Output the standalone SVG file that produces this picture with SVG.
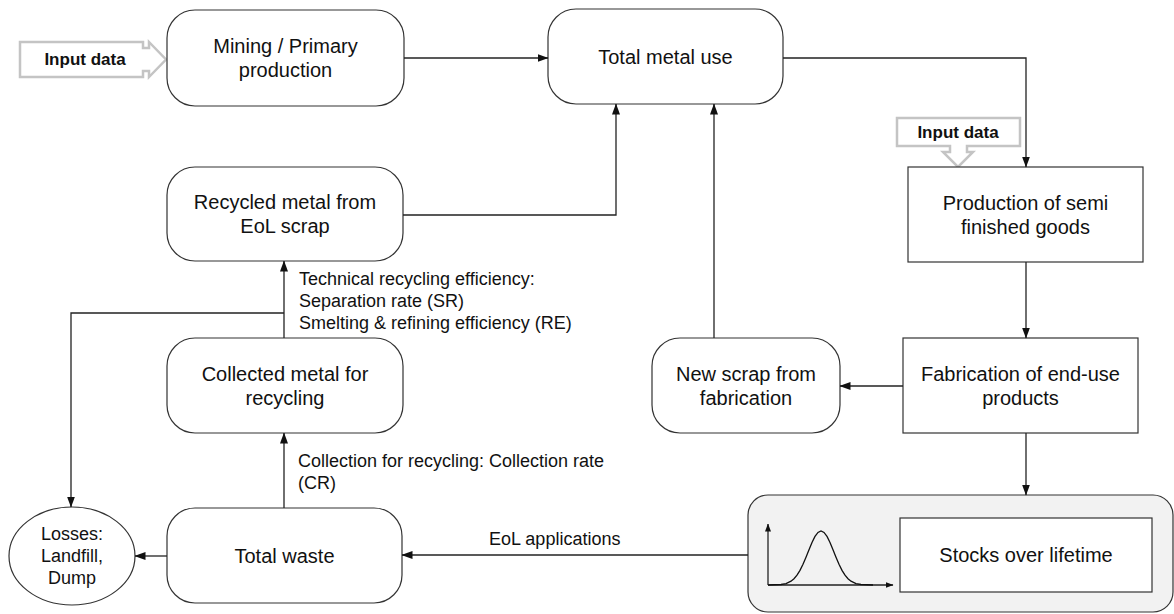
<svg xmlns="http://www.w3.org/2000/svg" width="1174" height="614" viewBox="0 0 1174 614">
  <style>
    .node { fill: #ffffff; stroke: #333333; stroke-width: 1.2; }
    .t { font-family: "Liberation Sans", Arial, sans-serif; font-size: 20px; fill: #111111; text-anchor: middle; }
    .lbl { font-family: "Liberation Sans", Arial, sans-serif; font-size: 18px; fill: #111111; }
    .small { font-family: "Liberation Sans", Arial, sans-serif; font-size: 18px; fill: #111111; text-anchor: middle; }
    .inp { fill: #ffffff; stroke: #c4c4c4; stroke-width: 2.5; stroke-linejoin: miter; }
    .inpt { font-family: "Liberation Sans", Arial, sans-serif; font-size: 17px; font-weight: bold; fill: #111111; text-anchor: middle; }
    .conn { fill: none; stroke: #222222; stroke-width: 1.3; }
  </style>
  <defs>
    <marker id="arrow" markerUnits="userSpaceOnUse" markerWidth="11" markerHeight="8" refX="10.5" refY="4" orient="auto">
      <path d="M0,0 L11,4 L0,8 Z" fill="#111111"/>
    </marker>
    <marker id="axis" markerUnits="userSpaceOnUse" markerWidth="8" markerHeight="6" refX="7.5" refY="3" orient="auto">
      <path d="M0,0 L8,3 L0,6 Z" fill="#111111"/>
    </marker>
  </defs>

  <!-- input data callouts -->
  <g id="input-left">
    <path class="inp" d="M20,42 H143 V48 H149 V42 L166,59.5 L149,77 V71 H143 V77 H20 Z"/>
    <text class="inpt" x="85" y="65">Input data</text>
  </g>
  <g id="input-top">
    <path class="inp" d="M897,118 H1020 V146 H967 V152 H973 L958,167 L943,152 H950 V146 H897 Z"/>
    <text class="inpt" x="958" y="138">Input data</text>
  </g>

  <!-- process nodes -->
  <g id="mining">
    <rect class="node" x="167" y="10" width="237" height="96" rx="28"/>
    <text class="t" x="285.5" y="53">Mining / Primary</text>
    <text class="t" x="285.5" y="77">production</text>
  </g>
  <g id="total-metal-use">
    <rect class="node" x="548" y="9" width="235" height="95" rx="28"/>
    <text class="t" x="665.5" y="64">Total metal use</text>
  </g>
  <g id="production">
    <rect class="node" x="908" y="167" width="235" height="95"/>
    <text class="t" x="1025.5" y="209.5">Production of semi</text>
    <text class="t" x="1025.5" y="233.5">finished goods</text>
  </g>
  <g id="fabrication">
    <rect class="node" x="903" y="338" width="235" height="95"/>
    <text class="t" x="1020.5" y="380.5">Fabrication of end-use</text>
    <text class="t" x="1020.5" y="404.5">products</text>
  </g>
  <g id="new-scrap">
    <rect class="node" x="652" y="338" width="188" height="95" rx="28"/>
    <text class="t" x="746" y="380.5">New scrap from</text>
    <text class="t" x="746" y="404.5">fabrication</text>
  </g>
  <g id="recycled-metal">
    <rect class="node" x="167" y="167" width="236" height="94" rx="28"/>
    <text class="t" x="285" y="209">Recycled metal from</text>
    <text class="t" x="285" y="233">EoL scrap</text>
  </g>
  <g id="collected-metal">
    <rect class="node" x="167" y="338" width="236" height="95" rx="28"/>
    <text class="t" x="285" y="380.5">Collected metal for</text>
    <text class="t" x="285" y="404.5">recycling</text>
  </g>
  <g id="total-waste">
    <rect class="node" x="167" y="508" width="235" height="95" rx="28"/>
    <text class="t" x="284.5" y="562.5">Total waste</text>
  </g>
  <g id="losses">
    <ellipse class="node" cx="72" cy="556" rx="63" ry="49"/>
    <text class="small" x="72" y="540">Losses:</text>
    <text class="small" x="72" y="562">Landfill,</text>
    <text class="small" x="72" y="584">Dump</text>
  </g>
  <g id="stocks">
    <rect x="748" y="495" width="425" height="117" rx="20" fill="#f2f2f2" stroke="#333333" stroke-width="1.2"/>
    <line class="conn" x1="768" y1="585" x2="768" y2="524" marker-end="url(#axis)"/>
    <line class="conn" x1="768" y1="585" x2="893" y2="585" marker-end="url(#axis)"/>
    <path fill="none" stroke="#111111" stroke-width="1.3" d="M768,585 L781,584.5 L786,583.6 L791,581.2 L794,578.7 L797,575.2 L800,570.4 L803,564.3 L806,557.2 L809,549.7 L812,542.5 L815,536.4 L818,532.4 L821,531 L824,532.4 L827,536.4 L830,542.5 L833,549.7 L836,557.2 L839,564.3 L842,570.4 L845,575.2 L848,578.7 L851,581.2 L856,583.6 L861,584.5 L873,585"/>
    <rect class="node" x="900" y="518" width="252" height="74"/>
    <text class="t" x="1026" y="562">Stocks over lifetime</text>
  </g>

  <!-- flows between nodes -->
  <g id="connectors">
    <path class="conn" d="M404,58 H548" marker-end="url(#arrow)"/>
    <path class="conn" d="M783,58 H1026 V167" marker-end="url(#arrow)"/>
    <path class="conn" d="M1026,262 V338" marker-end="url(#arrow)"/>
    <path class="conn" d="M903,386 H840" marker-end="url(#arrow)"/>
    <path class="conn" d="M714,338 V104" marker-end="url(#arrow)"/>
    <path class="conn" d="M403,215 H616 V104" marker-end="url(#arrow)"/>
    <path class="conn" d="M1026,433 V495" marker-end="url(#arrow)"/>
    <path class="conn" d="M748,555 H402" marker-end="url(#arrow)"/>
    <path class="conn" d="M284,508 V433" marker-end="url(#arrow)"/>
    <path class="conn" d="M284,338 V261" marker-end="url(#arrow)"/>
    <path class="conn" d="M284,313 H71 V507" marker-end="url(#arrow)"/>
    <path class="conn" d="M167,556 H135" marker-end="url(#arrow)"/>
  </g>

  <!-- flow labels -->
  <g id="labels">
    <text class="lbl" x="299" y="285">Technical recycling efficiency:</text>
    <text class="lbl" x="299" y="307">Separation rate (SR)</text>
    <text class="lbl" x="299" y="329">Smelting &amp; refining efficiency (RE)</text>
    <text class="lbl" x="298" y="467">Collection for recycling: Collection rate</text>
    <text class="lbl" x="298" y="489">(CR)</text>
    <text class="lbl" x="489" y="545">EoL applications</text>
  </g>
</svg>
